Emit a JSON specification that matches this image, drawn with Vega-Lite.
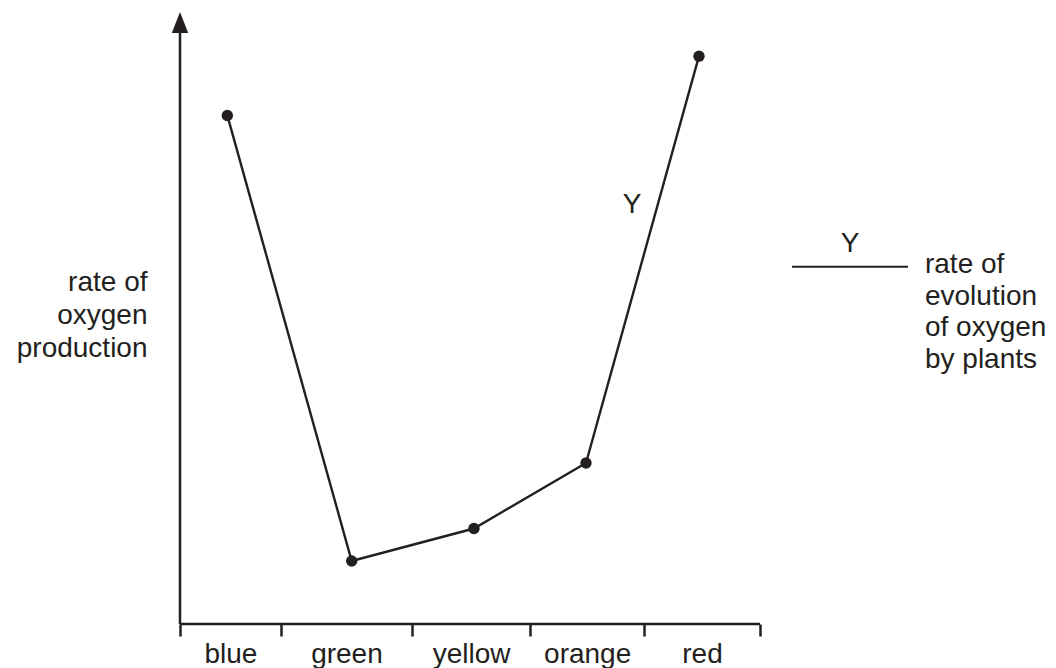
{
  "$schema": "https://vega.github.io/schema/vega-lite/v6.json",
  "width": 876,
  "height": 624,
  "autosize": "none",
  "padding": {"left": 180, "top": 0, "right": 0, "bottom": 44},
  "config": {"font": "Liberation Sans", "view": {"stroke": null}},
  "datasets": {
    "rates": [
      {"colour": "blue", "pos": 0.408, "rate": 81.5},
      {"colour": "green", "pos": 1.48, "rate": 10.1},
      {"colour": "yellow", "pos": 2.534, "rate": 15.3},
      {"colour": "orange", "pos": 3.5, "rate": 25.8},
      {"colour": "red", "pos": 4.474, "rate": 91.0}
    ],
    "one": [{"key": "Y"}]
  },
  "layer": [
    {
      "data": {"name": "rates"},
      "mark": {"type": "line", "color": "#231f20", "strokeWidth": 2.4, "point": {"filled": true, "color": "#231f20", "size": 130, "opacity": 1}},
      "encoding": {
        "x": {
          "field": "pos", "type": "quantitative",
          "scale": {"domain": [0, 7.5517], "nice": false, "zero": false},
          "axis": {
            "title": null, "domain": false, "grid": false,
            "values": [0, 0.435, 0.87, 1.435, 2, 2.51, 3.02, 3.51, 4, 4.5, 5],
            "labelExpr": "datum.value == 0.435 ? 'blue' : datum.value == 1.435 ? 'green' : datum.value == 2.51 ? 'yellow' : datum.value == 3.51 ? 'orange' : datum.value == 4.5 ? 'red' : ''",
            "labelOverlap": false, "labelBound": false, "labelFlush": false,
            "labelFont": "Liberation Sans", "labelFontSize": 28, "labelColor": "#231f20",
            "labelPadding": 4, "labelBaseline": "top",
            "tickSize": 12, "tickWidth": 2.5, "tickColor": "#231f20",
            "tickOpacity": {"condition": {"test": "indexof([0, 0.87, 2, 3.02, 4, 5], datum.value) >= 0", "value": 1}, "value": 0}
          }
        },
        "y": {
          "field": "rate", "type": "quantitative",
          "scale": {"domain": [0, 100], "nice": false, "zero": false},
          "axis": {
            "title": ["rate of", "oxygen", "production"],
            "domain": false, "ticks": false, "labels": false, "grid": false,
            "titleAngle": 0, "titleAlign": "right", "titleBaseline": "top",
            "titleX": -33, "titleY": 268,
            "titleFont": "Liberation Sans", "titleFontSize": 28, "titleFontWeight": "normal",
            "titleLineHeight": 33, "titleColor": "#231f20"
          }
        }
      }
    },
    {
      "data": {"name": "one"},
      "mark": {"type": "rule", "color": "#231f20", "strokeWidth": 2.5},
      "encoding": {"x": {"datum": 0}, "x2": {"datum": 5}, "y": {"datum": 0}}
    },
    {
      "data": {"name": "one"},
      "mark": {"type": "rule", "color": "#231f20", "strokeWidth": 2.5},
      "encoding": {"x": {"datum": 0}, "y": {"datum": 0}, "y2": {"datum": 95}}
    },
    {
      "data": {"name": "one"},
      "mark": {"type": "point", "shape": "M0,-1L0.78,1L-0.78,1Z", "filled": true, "color": "#231f20", "size": 441, "opacity": 1},
      "encoding": {"x": {"datum": 0}, "y": {"datum": 96.4}}
    },
    {
      "data": {"name": "one"},
      "mark": {"type": "text", "text": "Y", "font": "Liberation Sans", "fontSize": 28, "color": "#231f20", "align": "center", "baseline": "alphabetic"},
      "encoding": {"x": {"datum": 3.897}, "y": {"datum": 65.9}}
    },
    {
      "data": {"name": "one"},
      "mark": {"type": "rule", "color": "#231f20", "strokeWidth": 2},
      "encoding": {"x": {"datum": 5.276}, "x2": {"datum": 6.276}, "y": {"datum": 57.26}}
    },
    {
      "data": {"name": "one"},
      "mark": {"type": "text", "font": "Liberation Sans", "fontSize": 28, "color": "#231f20", "align": "center", "baseline": "alphabetic"},
      "encoding": {"x": {"datum": 5.776}, "y": {"datum": 59.6}, "text": {"field": "key"}}
    },
    {
      "data": {"name": "one"},
      "mark": {"type": "text", "text": ["rate of", "evolution", "of oxygen", "by plants"], "font": "Liberation Sans", "fontSize": 28, "lineHeight": 31.5, "color": "#231f20", "align": "left", "baseline": "alphabetic"},
      "encoding": {"x": {"datum": 6.422}, "y": {"datum": 56.25}}
    }
  ]
}
